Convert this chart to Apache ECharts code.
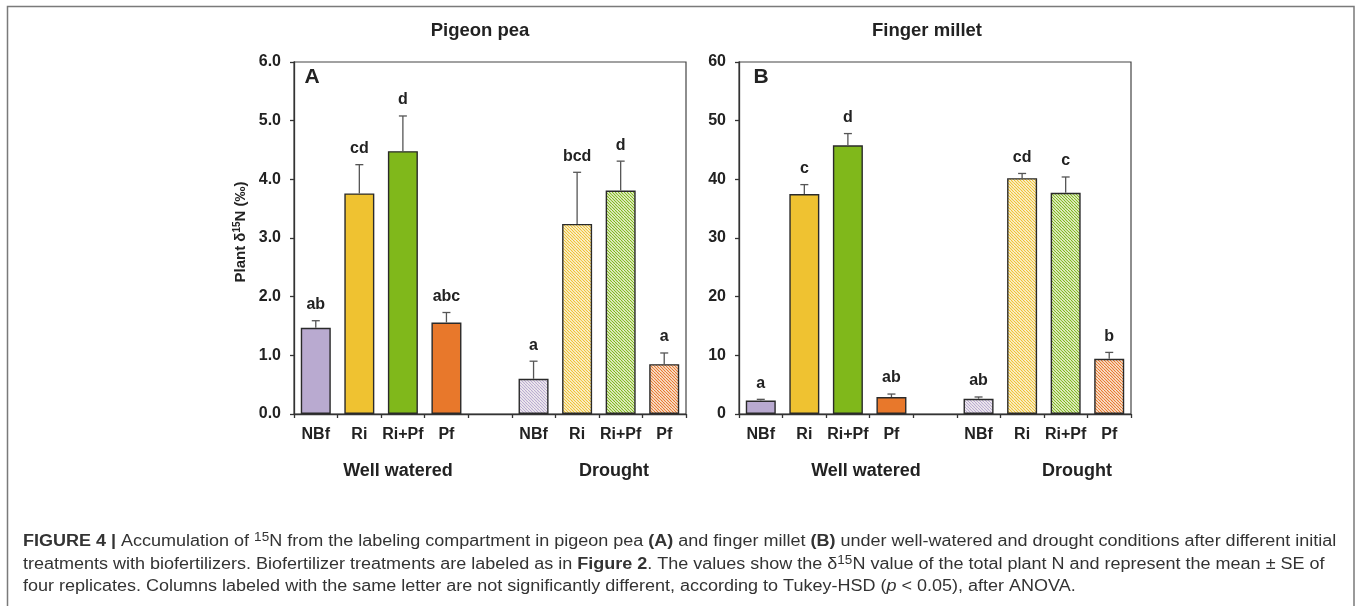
<!DOCTYPE html>
<html>
<head>
<meta charset="utf-8">
<script src="https://cdn.jsdelivr.net/npm/echarts@6/dist/echarts.min.js"></script>
<style>
  html, body { margin: 0; padding: 0; background: #fff; }
  #chart { width: 1357px; height: 606px; }
</style>
</head>
<body>
<div id="chart"></div>
<script>
// categories: 4 treatments, a blank spacer, 4 treatments
const categories = ["NBf", "Ri", "Ri+Pf", "Pf", "", "NBf", "Ri", "Ri+Pf", "Pf"];

// A: pigeon pea, plant d15N (permil), mean and SE
const pigeonMean = [1.47, 3.76, 4.48, 1.56, null, 0.60, 3.24, 3.81, 0.85];
const pigeonSE = [0.12, 0.49, 0.60, 0.17, null, 0.30, 0.88, 0.50, 0.19];
const pigeonLetters = ["ab", "cd", "d", "abc", "", "a", "bcd", "d", "a"];

// B: finger millet
const milletMean = [2.3, 37.5, 45.8, 2.9, null, 2.6, 40.2, 37.7, 9.4];
const milletSE = [0.2, 1.6, 2.0, 0.5, null, 0.3, 0.8, 2.7, 1.1];
const milletLetters = ["a", "c", "d", "ab", "", "ab", "cd", "c", "b"];

const pigeonTicks = [0, 6, 1];
const milletTicks = [0, 60, 10];

const treatColors = ["#b9aad0", "#efc231", "#80b81b", "#e8782b"];
const FONT = "Liberation Sans, Arial, sans-serif";
const INK = "#222";

function hatch(color) {
    const c = document.createElement("canvas");
    c.width = 6;
    c.height = 6;
    const ctx = c.getContext("2d");
    ctx.fillStyle = "#fdfbf6";
    ctx.fillRect(0, 0, 6, 6);
    ctx.strokeStyle = color;
    ctx.lineWidth = 1.2;
    for (let x0 = -6; x0 <= 6; x0 += 3) {
        ctx.beginPath();
        ctx.moveTo(x0, 0);
        ctx.lineTo(x0 + 6, 6);
        ctx.stroke();
    }
    return { image: c, repeat: "repeat" };
}

function barData(means) {
    return means.map((v, i) => {
        if (v == null) return null;
        const t = i < 4 ? i : i - 5;
        const fill = i < 4 ? treatColors[t] : hatch(treatColors[t]);
        return {
            value: v,
            itemStyle: { color: fill, borderColor: "#2a2a2a", borderWidth: 1.4 },
        };
    });
}

function errData(means, se) {
    return means.map((v, i) => [i, v, se[i]]);
}

function errSeries(idx, means, se, letters) {
    return {
        type: "custom",
        xAxisIndex: idx,
        yAxisIndex: idx,
        z: 5,
        data: errData(means, se),
        renderItem: function (params, api) {
            const m = api.value(1);
            if (m == null || isNaN(m)) return null;
            const x = api.value(0);
            const p0 = api.coord([x, m]);
            const p1 = api.coord([x, m + api.value(2)]);
            const st = { stroke: "#555", lineWidth: 1.3 };
            return {
                type: "group",
                children: [
                    { type: "line", shape: { x1: p0[0], y1: p0[1], x2: p1[0], y2: p1[1] }, style: st },
                    { type: "line", shape: { x1: p1[0] - 4, y1: p1[1], x2: p1[0] + 4, y2: p1[1] }, style: st },
                    {
                        type: "text",
                        x: p1[0],
                        y: p1[1] - 16,
                        style: {
                            text: letters[params.dataIndex],
                            fill: INK,
                            font: "bold 16px " + FONT,
                            align: "center",
                            verticalAlign: "middle",
                        },
                    },
                ],
            };
        },
    };
}

function makeX(idx) {
    return {
        type: "category",
        gridIndex: idx,
        data: categories,
        axisLine: { lineStyle: { color: "#333", width: 1.3 } },
        axisTick: { show: true, interval: 0, length: 4, lineStyle: { color: "#333", width: 1.3 } },
        axisLabel: { interval: 0, margin: 13, color: INK, fontWeight: "bold", fontSize: 16, fontFamily: FONT },
        splitLine: { show: false },
    };
}

function makeY(idx, ticks, digits) {
    return {
        type: "value",
        gridIndex: idx,
        min: ticks[0],
        max: ticks[1],
        interval: ticks[2],
        axisLine: { show: true, lineStyle: { color: "#333", width: 1.3 } },
        axisTick: { show: true, length: 4, lineStyle: { color: "#333", width: 1.3 } },
        axisLabel: {
            margin: 13,
            color: INK,
            fontWeight: "bold",
            fontSize: 16,
            fontFamily: FONT,
            formatter: (v) => v.toFixed(digits),
        },
        splitLine: { show: false },
    };
}

function label(text, x, y, size) {
    return {
        type: "text",
        x: x,
        y: y,
        style: { text: text, fill: INK, font: "bold " + size + "px " + FONT, align: "center", verticalAlign: "middle" },
    };
}

const capRich = {
    b: { fontWeight: "bold", fontSize: 16, fontFamily: FONT, fill: "#333" },
    i: { fontStyle: "italic", fontSize: 16, fontFamily: FONT, fill: "#333" },
    s: { fontSize: 12, fontFamily: FONT, fill: "#333", verticalAlign: "top", padding: [0, 0, 9, 0] },
};

function caption(text, y) {
    return {
        type: "text",
        x: 23,
        y: y,
        scaleX: 1.125,
        style: {
            text: text,
            rich: capRich,
            font: "16px " + FONT,
            fill: "#333",
            align: "left",
            verticalAlign: "middle",
        },
    };
}

const chart = echarts.init(document.getElementById("chart"));
chart.setOption({
    animation: false,
    backgroundColor: "#fff",
    grid: [
        { left: 294, top: 62, width: 392, height: 352, show: true, borderColor: "#444", borderWidth: 1.2, outerBoundsMode: "none" },
        { left: 739, top: 62, width: 392, height: 352, show: true, borderColor: "#444", borderWidth: 1.2, outerBoundsMode: "none" },
    ],
    xAxis: [makeX(0), makeX(1)],
    yAxis: [makeY(0, pigeonTicks, 1), makeY(1, milletTicks, 0)],
    series: [
        { type: "bar", xAxisIndex: 0, yAxisIndex: 0, barWidth: 30, data: barData(pigeonMean) },
        { type: "bar", xAxisIndex: 1, yAxisIndex: 1, barWidth: 30, data: barData(milletMean) },
        errSeries(0, pigeonMean, pigeonSE, pigeonLetters),
        errSeries(1, milletMean, milletSE, milletLetters),
    ],
    graphic: [
        {
            type: "rect",
            shape: { x: 7.5, y: 6.5, width: 1346.5, height: 640 },
            style: { fill: "none", stroke: "#7a7a7a", lineWidth: 1.5 },
        },
        label("Pigeon pea", 480, 31, 18.5),
        label("Finger millet", 927, 31, 18.5),
        label("A", 312, 77, 21),
        label("B", 761, 77, 21),
        label("Well watered", 398, 471, 18),
        label("Drought", 614, 471, 18),
        label("Well watered", 866, 471, 18),
        label("Drought", 1077, 471, 18),
        {
            type: "text",
            x: 241,
            y: 232,
            rotation: Math.PI / 2,
            style: {
                text: "Plant δ{s|15}N (‰)",
                rich: {
                    s: { fontSize: 10, fontWeight: "bold", fontFamily: FONT, fill: INK, verticalAlign: "top", padding: [0, 0, 7, 0] },
                },
                font: "bold 15px " + FONT,
                fill: INK,
                align: "center",
                verticalAlign: "middle",
            },
        },
        caption("{b|FIGURE 4 |} Accumulation of {s|15}N from the labeling compartment in pigeon pea {b|(A)} and finger millet {b|(B)} under well-watered and drought conditions after different initial", 542),
        caption("treatments with biofertilizers. Biofertilizer treatments are labeled as in {b|Figure 2}. The values show the δ{s|15}N value of the total plant N and represent the mean ± SE of", 565),
        caption("four replicates. Columns labeled with the same letter are not significantly different, according to Tukey-HSD ({i|p} < 0.05), after ANOVA.", 587),
    ],
});
</script>
</body>
</html>
